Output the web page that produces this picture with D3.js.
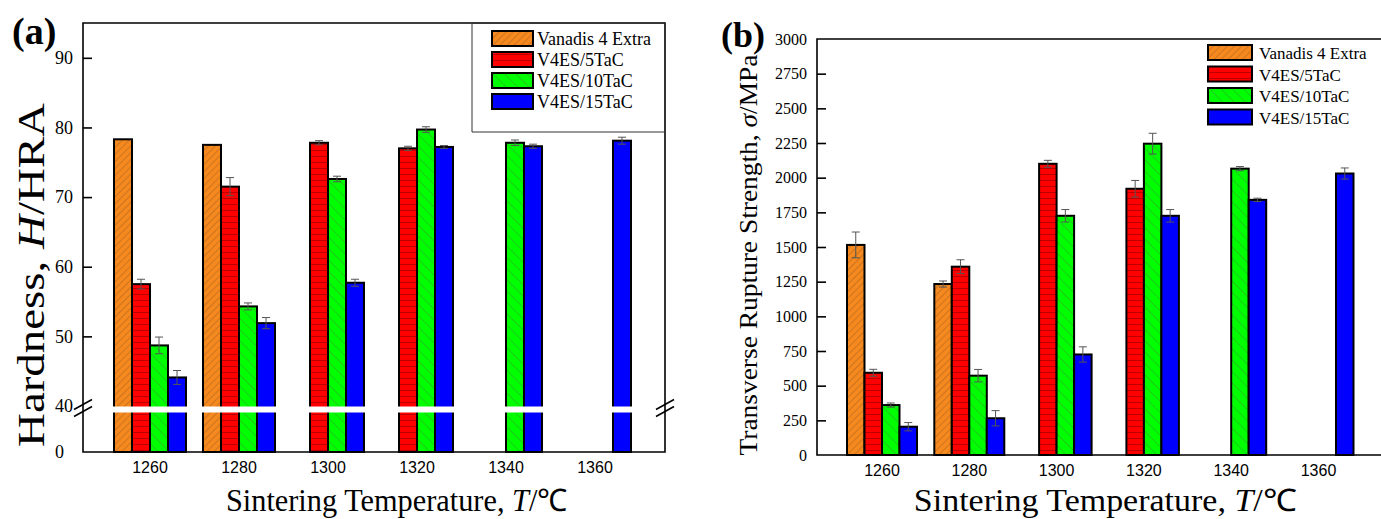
<!DOCTYPE html>
<html><head><meta charset="utf-8">
<script src="https://cdn.jsdelivr.net/npm/d3@7/dist/d3.min.js"></script>
<style>body{margin:0;background:#fff}svg{display:block}</style>
</head><body>
<svg id="c" width="1381" height="519"></svg>
<script>
// ---------- data ----------
const categories = ["1260","1280","1300","1320","1340","1360"];
const seriesNames = ["Vanadis 4 Extra","V4ES/5TaC","V4ES/10TaC","V4ES/15TaC"];
// Hardness (HRA)
const hardVanadis = [78.3, 77.5, null, null, null, null];
const hardTaC5    = [57.5, 71.5, 77.8, 77.0, null, null];
const hardTaC10   = [48.7, 54.3, 72.6, 79.7, 77.8, null];
const hardTaC15   = [44.1, 51.9, 57.7, 77.2, 77.3, 78.1];
const hardErrVanadis = [null, null, null, null, null, null];
const hardErrTaC5    = [0.7, 1.3, 0.3, 0.3, null, null];
const hardErrTaC10   = [1.2, 0.5, 0.4, 0.4, 0.4, null];
const hardErrTaC15   = [1.0, 0.8, 0.5, 0.2, 0.3, 0.5];
// Transverse rupture strength (MPa)
const trsVanadis = [1515, 1233, null, null, null, null];
const trsTaC5    = [593, 1358, 2100, 1920, null, null];
const trsTaC10   = [360, 572, 1725, 2245, 2065, null];
const trsTaC15   = [204, 265, 725, 1725, 1840, 2030];
const trsErrVanadis = [93, 22, null, null, null, null];
const trsErrTaC5    = [25, 50, 25, 60, null, null];
const trsErrTaC10   = [15, 45, 45, 75, 15, null];
const trsErrTaC15   = [30, 55, 55, 45, 12, 40];
const hardUpperTicks = [40, 50, 60, 70, 80, 90];
const hardLowerTicks = [0];
const trsTicks = d3.range(0, 3001, 250);

const hardSeries = [hardVanadis, hardTaC5, hardTaC10, hardTaC15];
const hardErrs = [hardErrVanadis, hardErrTaC5, hardErrTaC10, hardErrTaC15];
const trsSeries = [trsVanadis, trsTaC5, trsTaC10, trsTaC15];
const trsErrs = [trsErrVanadis, trsErrTaC5, trsErrTaC10, trsErrTaC15];

const svg = d3.select("#c");
const SERIF = "'Liberation Serif','Times New Roman',serif";
const SANS = "'Liberation Sans',Arial,sans-serif";

// ---------- patterns ----------
const defs = svg.append("defs");
function hatch(id, bg, angle, spacing, color, w){
  const p = defs.append("pattern").attr("id", id).attr("patternUnits","userSpaceOnUse")
    .attr("width", spacing).attr("height", spacing)
    .attr("patternTransform", `rotate(${angle})`);
  p.append("rect").attr("width", spacing).attr("height", spacing).attr("fill", bg);
  p.append("line").attr("x1",0).attr("y1",0).attr("x2",0).attr("y2",spacing)
    .attr("stroke", color).attr("stroke-width", w);
}
hatch("pOrange", "#F5891E", 45, 5, "#9a5a2a", 0.9);
hatch("pRed", "#FF0000", 90, 6, "#7a0000", 1);
hatch("pGreen", "#00FF00", -45, 8, "#3d8f3d", 0.9);
defs.append("pattern").attr("id","pBlue").attr("patternUnits","userSpaceOnUse")
  .attr("width",4).attr("height",4)
  .append("rect").attr("width",4).attr("height",4).attr("fill","#0000FF");
const fills = ["url(#pOrange)","url(#pRed)","url(#pGreen)","url(#pBlue)"];

function errBars(g, y, cx, v, e){
  if (e == null) return;
  const cap = 4;
  g.append("line").attr("x1",cx).attr("x2",cx).attr("y1",y(v-e)).attr("y2",y(v+e))
    .attr("stroke","#555").attr("stroke-width",1);
  [v-e, v+e].forEach(t => g.append("line").attr("x1",cx-cap).attr("x2",cx+cap)
    .attr("y1",y(t)).attr("y2",y(t)).attr("stroke","#555").attr("stroke-width",1));
}

// title text fitted to a target length by horizontal scaling (no glyph overlap)
function fittedTitle(g, parts, size, cx, cy, target, rotate){
  const outer = g.append("g");
  const t = outer.append("text").attr("text-anchor","middle")
    .attr("font-family", SERIF).attr("font-size", size).attr("fill","#000");
  parts.forEach(p => {
    const ts = t.append("tspan").text(p.text);
    if (p.italic) ts.attr("font-style","italic");
    if (p.font) ts.attr("font-family", p.font);
  });
  const len = t.node().getComputedTextLength() || target;
  const sx = target / len;
  outer.attr("transform", `translate(${cx},${cy})` + (rotate ? ` rotate(${rotate})` : "") + ` scale(${sx},1)`);
  return outer;
}

// ================= Panel (a) =================
const A = {left:83, right:665, top:23, bottom:452, breakTop:406, breakBot:413};
const xA = d3.scaleBand().domain(categories).range([105.5, 639.5]);
const xA1 = d3.scaleBand().domain(seriesNames)
  .range([xA.bandwidth()/2 - 36, xA.bandwidth()/2 + 36]);
const yUp = d3.scaleLinear().domain([40, 95]).range([A.breakTop, A.top]);
const yLow = d3.scaleLinear().domain([0, 40]).range([A.bottom, A.breakBot]);
const gA = svg.append("g");

hardSeries.forEach((arr, si) => {
  arr.forEach((v, ci) => {
    if (v == null) return;
    const x0 = xA(categories[ci]) + xA1(seriesNames[si]);
    gA.append("rect").attr("x", x0).attr("y", yUp(v))
      .attr("width", xA1.bandwidth()).attr("height", yLow(0) - yUp(v))
      .attr("fill", fills[si]).attr("stroke","#000").attr("stroke-width",2);
  });
});
// axis break band
gA.append("rect").attr("x", A.left+1).attr("y", A.breakTop+0.5)
  .attr("width", A.right-A.left-2).attr("height", A.breakBot-A.breakTop-1).attr("fill","#fff");
hardSeries.forEach((arr, si) => {
  arr.forEach((v, ci) => {
    if (v == null) return;
    const cx = xA(categories[ci]) + xA1(seriesNames[si]) + xA1.bandwidth()/2;
    errBars(gA, yUp, cx, v, hardErrs[si][ci]);
  });
});
// frame
gA.append("path").attr("d", `M${A.left},${A.top}H${A.right}V${A.bottom}H${A.left}Z`)
  .attr("fill","none").attr("stroke","#000").attr("stroke-width",1.6);
// y axis upper
const axUp = gA.append("g").attr("transform",`translate(${A.left},0)`)
  .call(d3.axisLeft(yUp).tickValues(hardUpperTicks).tickSize(-9).tickPadding(10).tickFormat(d3.format("d")));
axUp.select(".domain").remove();
axUp.selectAll(".tick").filter(d => d === 40).select("line").remove();
axUp.selectAll("line").attr("stroke","#000").attr("stroke-width",1.6);
axUp.selectAll("text").attr("font-family", SERIF).attr("font-size", 18).attr("fill","#000");
const axLow = gA.append("g").attr("transform",`translate(${A.left},0)`)
  .call(d3.axisLeft(yLow).tickValues(hardLowerTicks).tickSize(0).tickPadding(19).tickFormat(d3.format("d")));
axLow.select(".domain").remove();
axLow.selectAll("text").attr("font-family", SERIF).attr("font-size", 18).attr("fill","#000");
// break marks
[A.left, A.right].forEach(bx => {
  [-3.5, 3.5].forEach(off => {
    gA.append("line").attr("x1", bx-9).attr("y1", 413+off).attr("x2", bx+9).attr("y2", 403+off)
      .attr("stroke","#000").attr("stroke-width",1.6);
  });
});
// x axis labels
const axXA = gA.append("g").attr("transform",`translate(0,${A.bottom})`)
  .call(d3.axisBottom(xA).tickSize(0).tickPadding(10));
axXA.select(".domain").remove();
axXA.selectAll("text").attr("font-family", SANS).attr("font-size", 16).attr("fill","#000");
// titles
gA.append("text").attr("x", 12).attr("y", 44).attr("font-family", SERIF)
  .attr("font-weight","bold").attr("font-size", 38).text("(a)");
fittedTitle(gA, [{text:"Hardness, "},{text:"H",italic:true},{text:"/HRA"}], 38, 44, 275, 344, -90);
fittedTitle(gA, [{text:"Sintering Temperature, "},{text:"T",italic:true},{text:"/\u2103"}], 31, 397, 511, 342, 0);
// legend (a)
gA.append("path").attr("d", `M${A.right},${A.top}H472V132H${A.right}`)
  .attr("fill","none").attr("stroke","#333").attr("stroke-width",1);
seriesNames.forEach((s, i) => {
  const yy = 31 + i*21;
  gA.append("rect").attr("x", 492).attr("y", yy).attr("width", 41).attr("height", 15)
    .attr("fill", fills[i]).attr("stroke","#000").attr("stroke-width",2);
  gA.append("text").attr("x", 537).attr("y", yy + 14).attr("font-family", SERIF)
    .attr("font-size", 18).text(s);
});

// ================= Panel (b) =================
const B = {left:817, top:39, bottom:455};
const xB = d3.scaleBand().domain(categories).range([838.35, 1362.15]);
const xB1 = d3.scaleBand().domain(seriesNames)
  .range([xB.bandwidth()/2 - 35, xB.bandwidth()/2 + 35]);
const yB = d3.scaleLinear().domain([0, 3000]).range([B.bottom, B.top]);
const gB = svg.append("g");
trsSeries.forEach((arr, si) => {
  arr.forEach((v, ci) => {
    if (v == null) return;
    const x0 = xB(categories[ci]) + xB1(seriesNames[si]);
    gB.append("rect").attr("x", x0).attr("y", yB(v))
      .attr("width", xB1.bandwidth()).attr("height", yB(0) - yB(v))
      .attr("fill", fills[si]).attr("stroke","#000").attr("stroke-width",2);
  });
});
trsSeries.forEach((arr, si) => {
  arr.forEach((v, ci) => {
    if (v == null) return;
    const cx = xB(categories[ci]) + xB1(seriesNames[si]) + xB1.bandwidth()/2;
    errBars(gB, yB, cx, v, trsErrs[si][ci]);
  });
});
gB.append("path").attr("d", `M1400,${B.top}H${B.left}V${B.bottom}H1400`)
  .attr("fill","none").attr("stroke","#000").attr("stroke-width",1.6);
const axB = gB.append("g").attr("transform",`translate(${B.left},0)`)
  .call(d3.axisLeft(yB).tickValues(trsTicks).tickSize(-9).tickPadding(10).tickFormat(d3.format("d")));
axB.select(".domain").remove();
axB.selectAll(".tick").filter(d => d === 0 || d === 3000).select("line").remove();
axB.selectAll("line").attr("stroke","#000").attr("stroke-width",1.6);
axB.selectAll("text").attr("font-family", SERIF).attr("font-size", 16).attr("fill","#000");
const axXB = gB.append("g").attr("transform",`translate(0,${B.bottom})`)
  .call(d3.axisBottom(xB).tickSize(0).tickPadding(10));
axXB.select(".domain").remove();
axXB.selectAll("text").attr("font-family", SANS).attr("font-size", 16).attr("fill","#000");
gB.append("text").attr("x", 721).attr("y", 47).attr("font-family", SERIF)
  .attr("font-weight","bold").attr("font-size", 36).text("(b)");
fittedTitle(gB, [{text:"Transverse Rupture Strength, "},{text:"\u03C3",italic:true},{text:"/MPa"}], 26, 757, 255, 401, -90);
fittedTitle(gB, [{text:"Sintering Temperature, "},{text:"T",italic:true},{text:"/\u2103"}], 31, 1105, 511, 383, 0);
seriesNames.forEach((s, i) => {
  const yy = 45 + i*21.5;
  gB.append("rect").attr("x", 1208).attr("y", yy).attr("width", 44).attr("height", 15)
    .attr("fill", fills[i]).attr("stroke","#000").attr("stroke-width",2);
  gB.append("text").attr("x", 1259).attr("y", yy + 14).attr("font-family", SERIF)
    .attr("font-size", 17).text(s);
});
</script>
</body></html>
